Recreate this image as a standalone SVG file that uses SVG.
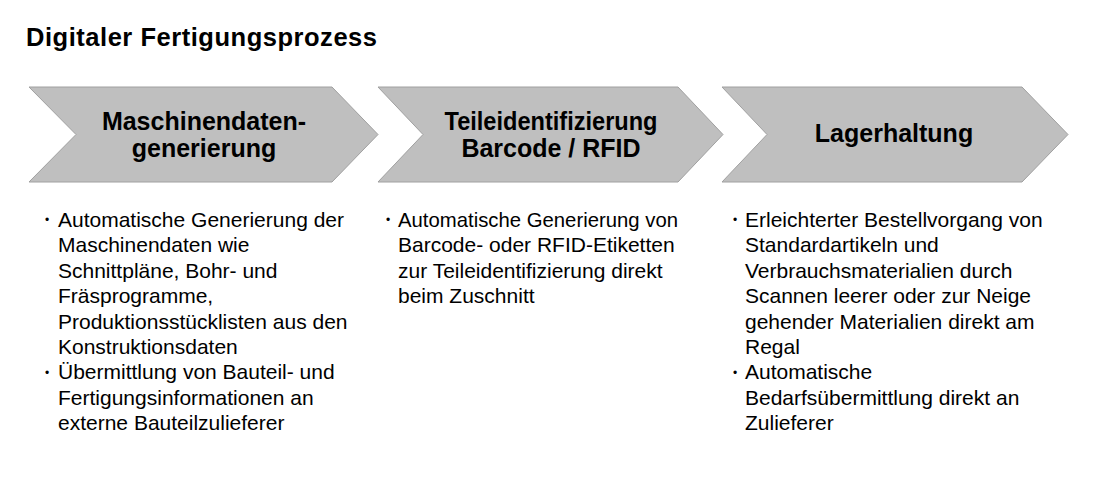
<svg xmlns="http://www.w3.org/2000/svg" width="1103" height="491" viewBox="0 0 1103 491">
<style>
.bg{fill:#FFFFFF}
.title{font-family:"Liberation Sans",Arial,sans-serif;font-weight:bold;font-size:25.5px;fill:#000}
.chev{fill:#BFBFBF;stroke:#A0A0A0;stroke-width:1}
.head{font-family:"Liberation Sans",Arial,sans-serif;font-weight:bold;font-size:25px;fill:#000;text-anchor:middle}
.body{font-family:"Liberation Sans",Arial,sans-serif;font-size:21px;fill:#000}
.bul{font-family:"Liberation Sans",Arial,sans-serif;font-size:12px;fill:#000}
</style>
<rect class="bg" x="0" y="0" width="1103" height="491"/>
<text class="title" x="26" y="45.5" textLength="351" lengthAdjust="spacing">Digitaler Fertigungsprozess</text>
<g id="node-maschinendaten">
<polygon class="chev" points="29,87 332,87 378,134.5 332,182 29,182 76,134.5"/>
<text class="head" x="204" y="130">Maschinendaten-</text>
<text class="head" x="204" y="157">generierung</text>
</g>
<g id="node-teileidentifizierung">
<polygon class="chev" points="378,87 678,87 723,134.5 678,182 378,182 423,134.5"/>
<text class="head" x="551" y="130" textLength="213" lengthAdjust="spacingAndGlyphs">Teileidentifizierung</text>
<text class="head" x="551" y="157">Barcode / RFID</text>
</g>
<g id="node-lagerhaltung">
<polygon class="chev" points="722,87 1022,87 1068,134.5 1022,182 722,182 767,134.5"/>
<text class="head" x="894" y="142">Lagerhaltung</text>
</g>
<g id="connectors"></g>
<g id="text-col1">
<text class="bul" x="45" y="224">•</text>
<text class="body" x="58" y="227">Automatische Generierung der</text>
<text class="body" x="58" y="252.4">Maschinendaten wie</text>
<text class="body" x="58" y="277.8">Schnittpläne, Bohr- und</text>
<text class="body" x="58" y="303.2">Fräsprogramme,</text>
<text class="body" x="58" y="328.6">Produktionsstücklisten aus den</text>
<text class="body" x="58" y="354">Konstruktionsdaten</text>
<text class="bul" x="45" y="377.4">•</text>
<text class="body" x="58" y="379.4">Übermittlung von Bauteil- und</text>
<text class="body" x="58" y="404.8">Fertigungsinformationen an</text>
<text class="body" x="58" y="430.2">externe Bauteilzulieferer</text>
</g>
<g id="text-col2">
<text class="bul" x="386" y="224">•</text>
<text class="body" x="398" y="227" textLength="280" lengthAdjust="spacingAndGlyphs">Automatische Generierung von</text>
<text class="body" x="398" y="252.4">Barcode- oder RFID-Etiketten</text>
<text class="body" x="398" y="277.8">zur Teileidentifizierung direkt</text>
<text class="body" x="398" y="303.2">beim Zuschnitt</text>
</g>
<g id="text-col3">
<text class="bul" x="733" y="224">•</text>
<text class="body" x="745" y="227">Erleichterter Bestellvorgang von</text>
<text class="body" x="745" y="252.4">Standardartikeln und</text>
<text class="body" x="745" y="277.8">Verbrauchsmaterialien durch</text>
<text class="body" x="745" y="303.2">Scannen leerer oder zur Neige</text>
<text class="body" x="745" y="328.6">gehender Materialien direkt am</text>
<text class="body" x="745" y="354">Regal</text>
<text class="bul" x="733" y="377.4">•</text>
<text class="body" x="745" y="379.4">Automatische</text>
<text class="body" x="745" y="404.8">Bedarfsübermittlung direkt an</text>
<text class="body" x="745" y="430.2">Zulieferer</text>
</g>
</svg>
